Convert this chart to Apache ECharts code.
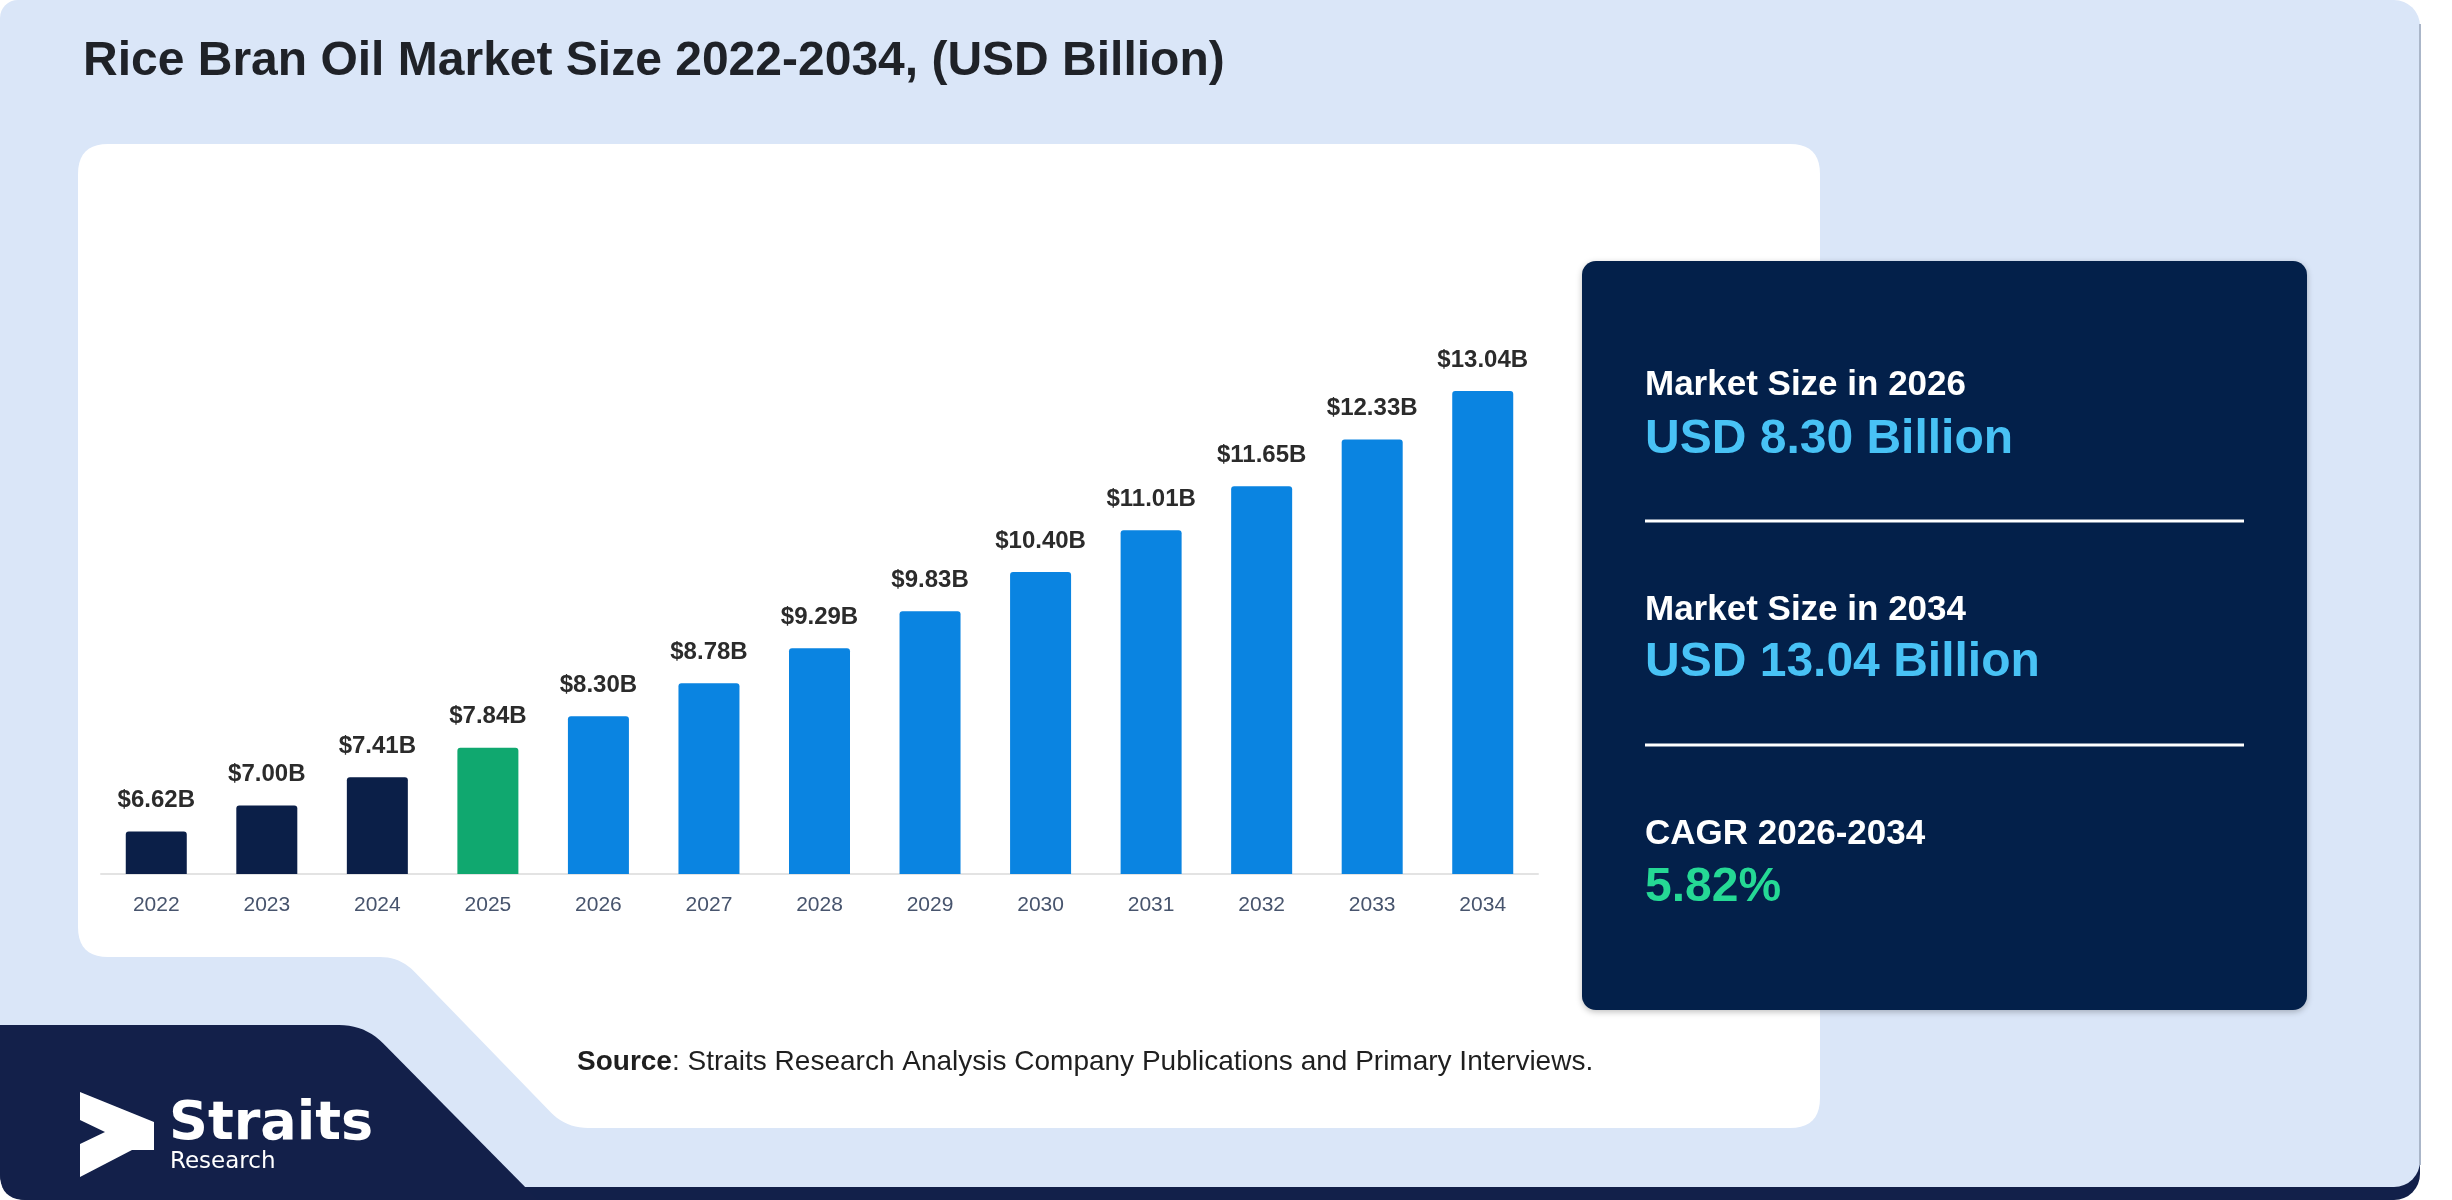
<!DOCTYPE html>
<html>
<head>
<meta charset="utf-8">
<script src="https://cdn.jsdelivr.net/npm/echarts@6/dist/echarts.min.js"></script>
<style>
html,body{margin:0;padding:0;background:#ffffff;}
#chart{width:2452px;height:1200px;}
</style>
</head>
<body>
<div id="chart"></div>
<script>
// ---- data ----
const years = ['2022','2023','2024','2025','2026','2027','2028','2029','2030','2031','2032','2033','2034'];
const values = [6.62, 7.00, 7.41, 7.84, 8.30, 8.78, 9.29, 9.83, 10.40, 11.01, 11.65, 12.33, 13.04];
const baseYear = '2025';
const yTicks = [6, 14];
const titleText = 'Rice Bran Oil Market Size 2022-2034, (USD Billion)';
const startYear = '2026';
const endYear = '2034';
const cagrText = '5.82%';
const sourceText = 'Straits Research Analysis Company Publications and Primary Interviews.';

// ---- styles ----
const NAVY_BAR = '#0b1f48', GREEN_BAR = '#10a86f', BLUE_BAR = '#0a84e1';
const FONT = 'Arial, "Liberation Sans", sans-serif';

function roundPoly(pts, radii) {
  const out = [], n = pts.length;
  for (let i = 0; i < n; i++) {
    const p0 = pts[(i - 1 + n) % n], p1 = pts[i], p2 = pts[(i + 1) % n];
    const rr = radii[i];
    if (!rr) { out.push(p1); continue; }
    const d1 = Math.hypot(p0[0] - p1[0], p0[1] - p1[1]);
    const d2 = Math.hypot(p2[0] - p1[0], p2[1] - p1[1]);
    const a = [p1[0] + (p0[0] - p1[0]) * rr / d1, p1[1] + (p0[1] - p1[1]) * rr / d1];
    const b = [p1[0] + (p2[0] - p1[0]) * rr / d2, p1[1] + (p2[1] - p1[1]) * rr / d2];
    for (let k = 0; k <= 10; k++) {
      const t = k / 10, u = 1 - t;
      out.push([u * u * a[0] + 2 * u * t * p1[0] + t * t * b[0], u * u * a[1] + 2 * u * t * p1[1] + t * t * b[1]]);
    }
  }
  return out;
}

const vStart = values[years.indexOf(startYear)];
const vEnd = values[years.indexOf(endYear)];

function txt(x, y, text, size, weight, color, family) {
  return {
    type: 'text', x: x, y: y, z: 20,
    style: {
      text: text, fill: color, fontSize: size, fontWeight: weight,
      fontFamily: family || FONT, align: 'left', verticalAlign: 'middle'
    }
  };
}

const graphics = [
  // bottom navy strip (outer frame shadow)
  { type: 'rect', z: -20, shape: { x: 0, y: 1000, width: 2420, height: 200, r: 26 }, style: { fill: '#12204a' } },
  // light blue background
  { type: 'rect', z: -19, shape: { x: 0, y: 0, width: 2420, height: 1187, r: [18, 26, 26, 18] }, style: { fill: '#dae6f8' } },
  { type: 'line', z: -18, shape: { x1: 2420, y1: 24, x2: 2420, y2: 1165 }, style: { stroke: '#aab6c9', lineWidth: 2 } },
  // bottom-left navy shape
  { type: 'polygon', z: -17, shape: { points: roundPoly([[0, 1025], [365, 1025], [538, 1200], [0, 1200]], [0, 26, 0, 26]) }, style: { fill: '#13204a' } },
  // white panel
  { type: 'polygon', z: -16, shape: { points: roundPoly([[78, 144], [1820, 144], [1820, 1128], [566, 1128], [400, 957], [78, 957]], [30, 30, 30, 22, 20, 30]) }, style: { fill: '#ffffff' } },
  // navy card
  { type: 'rect', z: -15, shape: { x: 1582, y: 261, width: 725, height: 749, r: 14 }, style: { fill: '#03204a', shadowBlur: 6, shadowColor: 'rgba(0,0,0,0.25)', shadowOffsetY: 2 } },
  { type: 'line', z: 20, shape: { x1: 1645, y1: 521, x2: 2244, y2: 521 }, style: { stroke: '#ffffff', lineWidth: 3 } },
  { type: 'line', z: 20, shape: { x1: 1645, y1: 745, x2: 2244, y2: 745 }, style: { stroke: '#ffffff', lineWidth: 3 } },
  // title
  txt(83, 62, titleText, 48, 'bold', '#1f2228'),
  // card texts
  txt(1645, 385, 'Market Size in ' + startYear, 35, 'bold', '#ffffff'),
  txt(1645, 440, 'USD ' + vStart.toFixed(2) + ' Billion', 48, 'bold', '#48c2f5'),
  txt(1645, 610, 'Market Size in ' + endYear, 35, 'bold', '#ffffff'),
  txt(1645, 663, 'USD ' + vEnd.toFixed(2) + ' Billion', 48, 'bold', '#48c2f5'),
  txt(1645, 834, 'CAGR ' + startYear + '-' + endYear, 35, 'bold', '#ffffff'),
  txt(1645, 888, cagrText, 48, 'bold', '#25d995'),
  // source
  {
    type: 'text', x: 577, y: 1062, z: 20,
    style: {
      text: '{b|Source}{r|: ' + sourceText + '}',
      verticalAlign: 'middle', align: 'left',
      rich: {
        b: { fontSize: 28, fontWeight: 'bold', fontFamily: FONT, fill: '#1f1f1f' },
        r: { fontSize: 28, fontWeight: 'normal', fontFamily: FONT, fill: '#1f1f1f' }
      }
    }
  },
  // logo
  { type: 'polygon', z: 20, shape: { points: [[80, 1092], [154, 1122], [154, 1150], [132, 1150], [80, 1177], [80, 1144], [105, 1132], [80, 1120]] }, style: { fill: '#ffffff' } },
  txt(169, 1125, 'Straits', 54, 'bold', '#ffffff', '"DejaVu Sans", sans-serif'),
  txt(170, 1162, 'Research', 23, 'normal', '#ffffff', '"DejaVu Sans", sans-serif')
];

const chart = echarts.init(document.getElementById('chart'), null, { width: 2452, height: 1200 });
chart.setOption({
  animation: false,
  backgroundColor: 'transparent',
  graphic: { elements: graphics },
  grid: { left: 101, right: 914, top: 325, bottom: 326, containLabel: false },
  xAxis: {
    type: 'category', data: years,
    axisLine: { show: true, lineStyle: { color: '#e3e3e3', width: 2 } },
    axisTick: { show: false },
    axisLabel: { color: '#47546d', fontSize: 21, fontFamily: FONT, margin: 21 }
  },
  yAxis: {
    type: 'value', min: yTicks[0], max: yTicks[1], show: false,
    splitLine: { show: false }
  },
  series: [{
    type: 'bar', barWidth: 61,
    data: values.map((v, i) => ({
      value: v,
      itemStyle: { color: years[i] < baseYear ? NAVY_BAR : (years[i] === baseYear ? GREEN_BAR : BLUE_BAR), borderRadius: [3, 3, 0, 0] }
    })),
    label: {
      show: true, position: 'top', distance: 19,
      formatter: p => '$' + p.value.toFixed(2) + 'B',
      color: '#2b2b2b', fontSize: 24, fontWeight: 'bold', fontFamily: FONT
    }
  }]
});
</script>
</body>
</html>
